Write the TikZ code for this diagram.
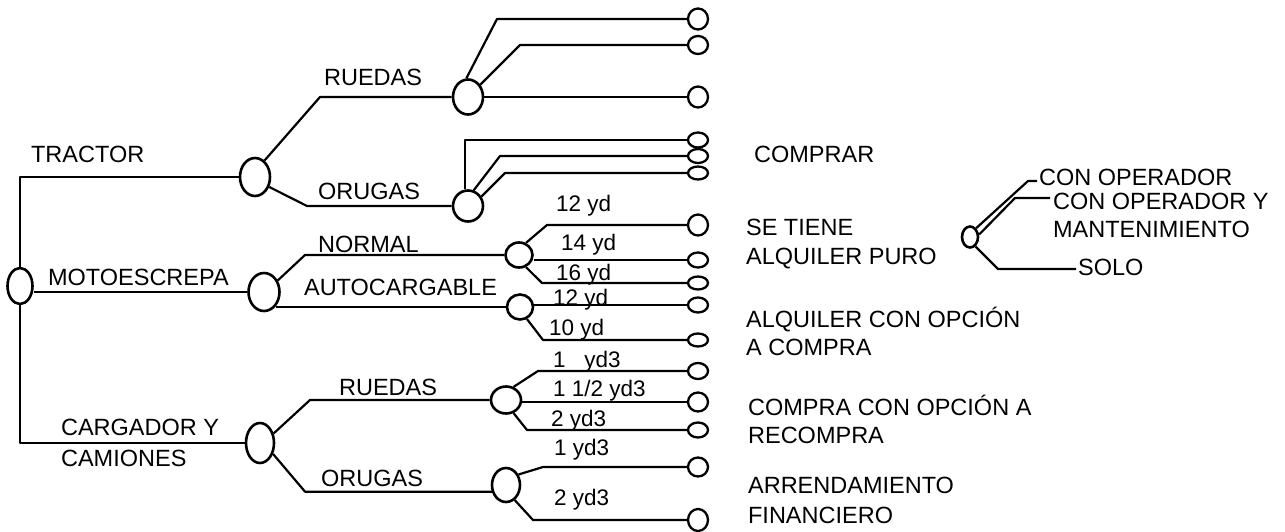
\documentclass[tikz,border=0pt]{standalone}
\usepackage{fontspec}
\setmainfont{Liberation Sans}
\usetikzlibrary{shapes.geometric,backgrounds}
\newcommand\twolines[2]{\begin{tabular}[t]{@{}l@{}}#1\\#2\end{tabular}}
\begin{document}
\begin{tikzpicture}[x=1pt,y=-1pt,
  line width=2.2pt, line join=round,
  conn/.style={line width=2.2pt, line join=round, draw=black},
  big/.style={ellipse, draw, line width=2.6pt, fill=white, inner sep=0pt},
  leaf/.style={ellipse, draw, line width=2.3pt, fill=white, inner sep=0pt, minimum width=20pt},
  lbl/.style={inner sep=0pt, anchor=base west, font=\fontsize{23.5}{29}\selectfont},
  two/.style={lbl, font=\fontsize{23.5}{#1}\selectfont},
  yd/.style={lbl, font=\fontsize{22.5}{28}\selectfont},
]
\useasboundingbox (0,0) rectangle (1285,532);

% decision nodes
\node[big, minimum width=25pt, minimum height=36pt] (root) at (20,286) {};
\node[big, minimum width=30pt, minimum height=38pt] (tractor) at (255,177) {};
\node[big, minimum width=31pt, minimum height=38pt] (moto) at (264,292) {};
\node[big, minimum width=28pt, minimum height=40pt] (carg) at (260,443) {};
\node[big, minimum width=30pt, minimum height=35pt] (ruedasT) at (468,97) {};
\node[big, minimum width=30pt, minimum height=31pt] (orugasT) at (468,206) {};
\node[big, minimum width=27pt, minimum height=25pt] (normal) at (519,255) {};
\node[big, minimum width=26pt, minimum height=25pt] (auto) at (520,307) {};
\node[big, minimum width=30pt, minimum height=27pt] (ruedasB) at (506,400) {};
\node[big, minimum width=28pt, minimum height=34pt] (orugasB) at (506,485) {};
\node[big, minimum width=16pt, minimum height=21pt] (alq) at (970,237) {};

% leaves
\node[leaf, minimum height=21pt] (t1) at (698,19) {};
\node[leaf, minimum height=18pt] (t2) at (698,45) {};
\node[leaf, minimum height=21pt] (t3) at (698,97) {};
\node[leaf, minimum height=15pt] (o1) at (698,140) {};
\node[leaf, minimum height=14pt] (o2) at (698,156) {};
\node[leaf, minimum height=13pt] (o3) at (698,173) {};
\node[leaf, minimum height=21pt] (m1) at (698,225) {};
\node[leaf, minimum height=15pt] (m2) at (698,260) {};
\node[leaf, minimum height=13pt] (m3) at (698,283) {};
\node[leaf, minimum height=15pt] (m4) at (698,305) {};
\node[leaf, minimum height=13pt] (m5) at (698,340) {};
\node[leaf, minimum height=16pt] (c1) at (698,371) {};
\node[leaf, minimum height=19pt] (c2) at (698,402) {};
\node[leaf, minimum height=15pt] (c3) at (698,430) {};
\node[leaf, minimum height=19pt] (c4) at (698,467) {};
\node[leaf, minimum height=22pt] (c5) at (698,520) {};

% branch labels
\node[lbl] (lTractor) at (30,163) {TRACTOR};
\node[lbl] (lMoto) at (47,285) {MOTOESCREPA};
\node[two=31] (lCarg) at (60,435) {\twolines{CARGADOR Y}{CAMIONES}};
\node[lbl] (lRuedasT) at (323,86) {RUEDAS};
\node[lbl] (lOrugasT) at (317,199) {ORUGAS};
\node[lbl] (lNormal) at (317,252) {NORMAL};
\node[lbl] (lAuto) at (303,295) {AUTOCARGABLE};
\node[lbl] (lRuedasB) at (338,395) {RUEDAS};
\node[lbl] (lOrugasB) at (320,486) {ORUGAS};

\node[yd] (y1) at (555,211) {12 yd};
\node[yd] (y2) at (560,250) {14 yd};
\node[yd] (y3) at (555,280) {16 yd};
\node[yd] (y4) at (552,305) {12 yd};
\node[yd] (y5) at (548,335) {10 yd};
\node[yd] (y6) at (552,367) {1~~~yd3};
\node[yd] (y7) at (552,396) {1 1/2 yd3};
\node[yd] (y8) at (550,426) {2 yd3};
\node[yd] (y9) at (553,455) {1 yd3};
\node[yd] (y10) at (553,505) {2 yd3};

% right-hand texts
\node[lbl] (rComprar) at (753,162) {COMPRAR};
\node[two=29] (rSeTiene) at (745,235) {\twolines{SE TIENE}{ALQUILER PURO}};
\node[two=28] (rAlqOpc) at (745,327) {\twolines{ALQUILER CON OPCIÓN}{A COMPRA}};
\node[two=28] (rCompraOpc) at (747,415) {\twolines{COMPRA CON OPCIÓN A}{RECOMPRA}};
\node[two=30] (rArrend) at (747,493) {\twolines{ARRENDAMIENTO}{FINANCIERO}};
\node[lbl] (r1) at (1038,185) {CON OPERADOR};
\node[two=28] (r2) at (1052,209) {\twolines{CON OPERADOR Y}{MANTENIMIENTO}};
\node[lbl] (r3) at (1077,275) {SOLO};

\coordinate (r1in) at ([xshift=-1pt,yshift=4pt]r1.base west);
\coordinate (r2in) at ([xshift=-2pt,yshift=11pt]r2.base west);
\coordinate (r3in) at ([xshift=-1pt,yshift=6pt]r3.base west);

\begin{scope}[on background layer, conn]
\draw[conn] (root.north) |- (tractor.west);
\draw[conn] (root.south) |- (carg.west);
\draw[conn] (moto.west -| root.east) -- (moto.west);

\draw[conn] (tractor.60) -- (ruedasT.west -| 320,0) -- (ruedasT.west);
\draw[conn] (tractor.-35) -- (orugasT.west -| 307,0) -- (orugasT.west);
\draw[conn] (moto.40) -- (normal.west -| 305,0) -- (normal.west);
\draw[conn] (moto.-50 |- auto.west) -- (auto.west);
\draw[conn] (carg.35) -- (ruedasB.west -| 310,0) -- (ruedasB.west);
\draw[conn] (carg.-40) -- (orugasB.205 -| 305,0) -- (orugasB.205);

\draw[conn] (ruedasT.95) -- (t1.west -| 497,0) -- (t1.west);
\draw[conn] (ruedasT.45) -- (t2.west -| 520,0) -- (t2.west);
\draw[conn] (t3.west -| ruedasT.east) -- (t3.west);

\draw[conn] (orugasT.100) |- (o1.west);
\draw[conn] (orugasT.70) -- (o2.west -| 500,0) -- (o2.west);
\draw[conn] (orugasT.35) -- (o3.west -| 505,0) -- (o3.west);

\draw[conn] (normal.60) -- (m1.west -| 547,0) -- (m1.west);
\draw[conn] (m2.west -| normal.east) -- (m2.west);
\draw[conn] (normal.-60) -- (m3.west -| 542,0) -- (m3.west);
\draw[conn] (m4.west -| auto.east) -- (m4.west);
\draw[conn] (auto.-60) -- (m5.west -| 543,0) -- (m5.west);

\draw[conn] (ruedasB.60) -- (c1.west -| 538,0) -- (c1.west);
\draw[conn] (c2.west -| ruedasB.east) -- (c2.west);
\draw[conn] (ruedasB.-60) -- (c3.west -| 527,0) -- (c3.west);
\draw[conn] (orugasB.40) -- (c4.west -| 543,0) -- (c4.west);
\draw[conn] (orugasB.-60) -- (c5.west -| 533,0) -- (c5.west);

\draw[conn] (alq.55) -- (r1in -| 1028,0) -- (r1in);
\draw[conn] (alq.15) -- (r2in -| 1015,0) -- (r2in);
\draw[conn] (alq.-60) -- (r3in -| 998,0) -- (r3in);
\end{scope}
\end{tikzpicture}
\end{document}
